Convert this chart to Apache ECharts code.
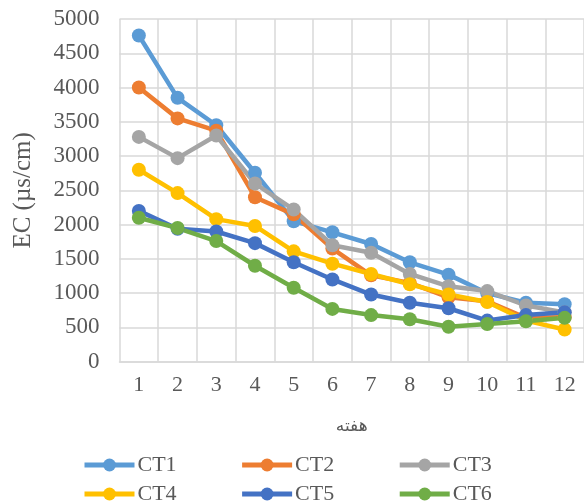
<!DOCTYPE html>
<html>
<head>
<meta charset="utf-8">
<script src="https://cdn.jsdelivr.net/npm/echarts@6/dist/echarts.min.js"></script>
<style>html,body{margin:0;padding:0;background:#fff}#c{width:584px;height:504px}</style>
</head>
<body>
<div id="c"></div>
<script>
const weeks = ['1','2','3','4','5','6','7','8','9','10','11','12'];
const seriesNames = ['CT1','CT2','CT3','CT4','CT5','CT6'];
const ct1 = [4760, 3850, 3450, 2757, 2050, 1888, 1717, 1450, 1270, 1000, 860, 840];
const ct2 = [4000, 3550, 3370, 2400, 2150, 1650, 1260, 1150, 940, 880, 640, 650];
const ct3 = [3280, 2970, 3300, 2600, 2220, 1700, 1590, 1280, 1100, 1030, 820, 720];
const ct4 = [2800, 2460, 2080, 1980, 1610, 1430, 1280, 1130, 980, 870, 600, 470];
const ct5 = [2200, 1940, 1900, 1730, 1450, 1200, 980, 860, 780, 600, 680, 720];
const ct6 = [2100, 1950, 1760, 1400, 1080, 770, 680, 620, 510, 550, 590, 640];
const yTicks = [0, 500, 1000, 1500, 2000, 2500, 3000, 3500, 4000, 4500, 5000];
const colors = ['#5B9BD5', '#ED7D31', '#A5A5A5', '#FFC000', '#4472C4', '#70AD47'];
const allData = [ct1, ct2, ct3, ct4, ct5, ct6];

const serif = '"Liberation Serif", "DejaVu Serif", serif';
const chart = echarts.init(document.getElementById('c'));
const legendCommon = {
  left: 77, itemWidth: 50, itemHeight: 16, itemGap: 63,
  lineStyle: { width: 5 },
  textStyle: { fontFamily: serif, fontSize: 22, color: '#595959', padding: [0,0,0,-2] },
  orient: 'horizontal'
};
chart.setOption({
  animation: false,
  color: colors,
  grid: { left: 119.5, right: -3, top: 19, bottom: 142.3 },
  legend: [
    Object.assign({ top: 449, data: seriesNames.slice(0,3) }, legendCommon),
    Object.assign({ top: 478, data: seriesNames.slice(3) }, legendCommon)
  ],
  xAxis: {
    type: 'category', data: weeks, boundaryGap: true,
    name: 'هفته', nameLocation: 'middle', nameGap: 56,
    nameTextStyle: { fontFamily: '"DejaVu Sans", sans-serif', fontSize: 17, color: '#595959' },
    axisLine: { lineStyle: { color: '#D9D9D9', width: 1.5 } },
    axisTick: { show: false },
    axisLabel: { fontFamily: serif, fontSize: 22, color: '#595959', margin: 13 },
    splitLine: { show: true, lineStyle: { color: '#D9D9D9', width: 1.5 } }
  },
  yAxis: {
    type: 'value', min: 0, max: 5000, interval: 500,
    name: 'EC (µs/cm)', nameLocation: 'middle', nameGap: 84,
    nameTextStyle: { fontFamily: serif, fontSize: 25, color: '#595959' },
    axisLine: { show: false }, axisTick: { show: false },
    axisLabel: { fontFamily: serif, fontSize: 23, color: '#595959', margin: 20,
      formatter: v => yTicks.includes(v) ? String(v) : '' },
    splitLine: { lineStyle: { color: '#D9D9D9', width: 1.5 } }
  },
  series: seriesNames.map((n, i) => ({
    name: n, type: 'line', data: allData[i],
    symbol: 'circle', symbolSize: 14,
    lineStyle: { width: 4.5, color: colors[i] },
    itemStyle: { color: colors[i] }
  }))
});
</script>
</body>
</html>
